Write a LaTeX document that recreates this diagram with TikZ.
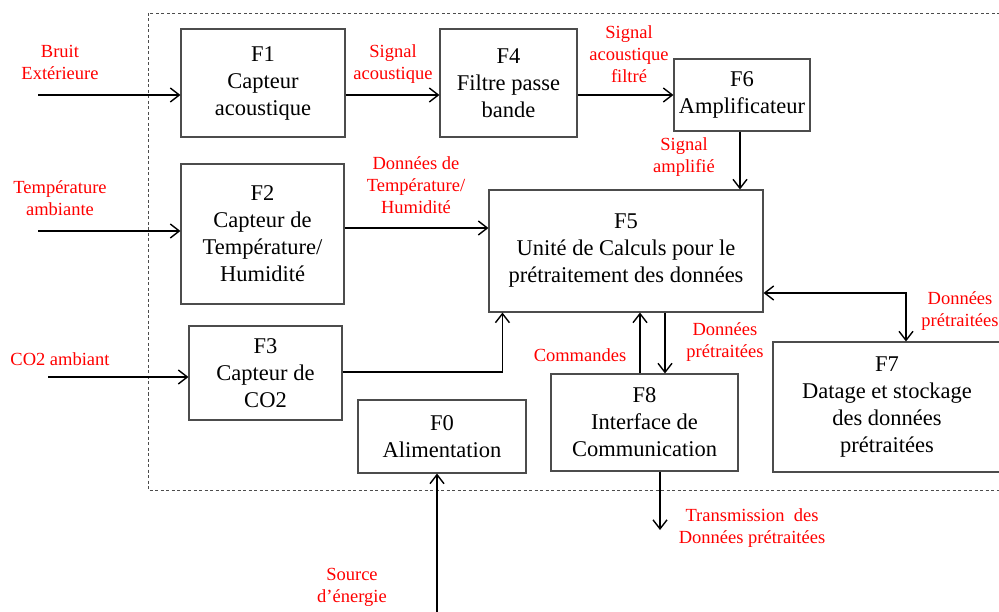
\documentclass[tikz,border=0pt]{standalone}
\usepackage{fontspec}
\setmainfont{Liberation Serif}
\usetikzlibrary{arrows.meta}

\begin{document}
\begin{tikzpicture}[x=1pt, y=-1pt,
  b/.style={draw=black!70, line width=1.1pt, fill=white, align=center, inner sep=0pt, font=\fontsize{22.5}{27}\selectfont},
  lbl/.style={text=red, align=center, inner sep=0pt, font=\fontsize{18.5}{22}\selectfont},
  a/.style={-{Straight Barb[length=9pt,width=14pt]}, line width=1.4pt, draw=black},
  aa/.style={{Straight Barb[length=9pt,width=14pt]}-{Straight Barb[length=9pt,width=14pt]}, line width=1.4pt, draw=black}]
  \useasboundingbox (0,0) rectangle (999,612);
  \clip (0,0) rectangle (999,612);
  % system boundary
  \draw[black!70, line width=0.8pt, dash pattern=on 3pt off 2.5pt] (148,13) rectangle (1010,490);
  % function blocks
  \node[b, minimum width=164pt, minimum height=108pt] (f1) at (263,83) {F1\\Capteur\\acoustique};
  \node[b, minimum width=137pt, minimum height=108pt] (f4) at (508.5,83) {F4\\Filtre passe\\bande};
  \node[b, minimum width=136pt, minimum height=72pt] (f6) at (742,95) {F6\\Amplificateur};
  \node[b, minimum width=163pt, minimum height=140pt] (f2) at (262.5,234) {F2\\Capteur de\\Température/\\Humidité};
  \node[b, minimum width=153pt, minimum height=94pt] (f3) at (265.5,373) {F3\\Capteur de\\CO2};
  \node[b, minimum width=274pt, minimum height=122pt] (f5) at (626,251) {F5\\Unité de Calculs pour le\\prétraitement des données};
  \node[b, minimum width=187pt, minimum height=97pt] (f8) at (644.5,422.5) {F8\\Interface de\\Communication};
  \node[b, minimum width=228pt, minimum height=130pt] (f7) at (887,407) {F7\\Datage et stockage\\des données\\prétraitées};
  \node[b, minimum width=168pt, minimum height=73pt] (f0) at (442,436.5) {F0\\Alimentation};
  % free ends
  \coordinate (bruit) at (38,95);
  \coordinate (temp) at (38,231);
  \coordinate (co2) at (48,377);
  \coordinate (tx) at (660,530);
  \coordinate (src) at (437,616);
  % flows
  \draw[a] (bruit) -- (bruit -| f1.west);
  \draw[a] (f1.east |- bruit) -- (f4.west |- bruit);
  \draw[a] (f4.east |- bruit) -- (f6.west |- bruit);
  \draw[a] ([xshift=-2pt]f6.south) -- ([xshift=-2pt]f6.south |- f5.north);
  \draw[a] (temp) -- (temp -| f2.west);
  \draw[a] ([yshift=6pt]f2.east) -- ([yshift=6pt]f2.east -| f5.west);
  \draw[a] (co2) -- (co2 -| f3.west);
  \draw[a] ([yshift=1pt]f3.east) -| ([xshift=14pt]f5.south west);
  \draw[a] ([xshift=-4.5pt]f8.north) -- ([xshift=-4.5pt]f8.north |- f5.south);
  \draw[a] ([xshift=39pt]f5.south) -- ([xshift=39pt]f5.south |- f8.north);
  \draw[aa] ([yshift=-42pt]f5.east) -| ([xshift=19pt]f7.north);
  \draw[a] (f8.south -| tx) -- (tx);
  \draw[a] (src) -- (src |- f0.south);
  % flow labels
  \node[lbl] (lbruit) at (60,62) {Bruit\\Extérieure};
  \node[lbl] (lsig) at (393,64) {Signal\\acoustique};
  \node[lbl] (lfil) at (629,54) {Signal\\acoustique\\filtré};
  \node[lbl] (lamp) at (684,157) {Signal\\amplifié};
  \node[lbl] (ltemp) at (60,198) {Température\\ambiante};
  \node[lbl] (lth) at (416,185) {Données de\\Température/\\Humidité};
  \node[lbl] (lco2) at (60,359) {CO2 ambiant};
  \node[lbl] (lcmd) at (580,355) {Commandes};
  \node[lbl] (lpre) at (725,342) {Données\\prétraitées};
  \node[lbl] (lsto) at (960,311) {Données\\prétraitées};
  \node[lbl] (ltx) at (752,528) {Transmission\ \ des\\Données prétraitées};
  \node[lbl] (lsrc) at (352,587) {Source\\d’énergie};
\end{tikzpicture}
\end{document}
